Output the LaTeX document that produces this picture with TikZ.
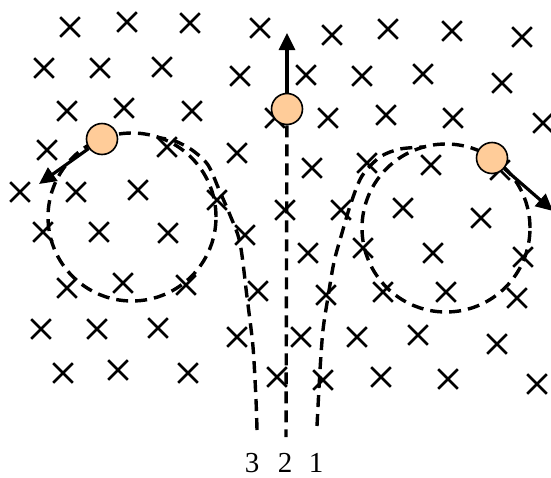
\documentclass[tikz,border=0pt]{standalone}
\usepackage{fontspec}
\setmainfont{Liberation Serif}
\usetikzlibrary{arrows.meta,shapes.misc}

\definecolor{peach}{RGB}{255,204,153}

\begin{document}
\begin{tikzpicture}[x=1pt, y=-1pt]
        \tikzstyle{cross}=[cross out,draw,line width=2.6pt,minimum size=17pt,inner sep=0pt]
        \tikzstyle{ball}=[circle,draw,fill=peach,line width=1.6pt,minimum size=31pt,inner sep=0pt]
        \tikzstyle{traj}=[line width=3.4pt,dash pattern=on 12pt off 7pt]
        \tikzstyle{vec}=[line width=3.2pt,-{Triangle[length=17pt,width=16pt]}]
        \tikzstyle{num}=[font=\fontsize{29}{30}\selectfont,inner sep=0pt]

        \useasboundingbox (0,0) rectangle (551,477);

        % field into the page
        \foreach \p in {(70,27),(127,22),(190,23),(260,28),(332,35),(388,29),(452,31),(522,37),
                        (44,68),(100,68),(162,67),(240,76),(306,75),(362,76),(423,74),(502,83),
                        (67,111),(124,108),(192,111),(275,118),(328,118),(386,115),(453,118),(543,123),
                        (47,150),(167,147),(237,153),(312,168),(367,163),(431,165),(500,170),
                        (20,192),(76,192),(138,190),(217,200),(285,210),(341,210),(403,208),(481,218),
                        (43,232),(99,232),(168,233),(245,235),(308,253),(363,248),(433,253),(523,257),
                        (67,288),(123,283),(186,285),(258,291),(326,295),(383,292),(446,292),(517,298),
                        (41,329),(97,329),(158,328),(237,337),(301,337),(357,337),(418,335),(497,344),
                        (63,373),(118,370),(188,373),(277,377),(323,380),(381,377),(448,379),(537,384)}
            \node[cross] at \p {};

        \coordinate (E_3) at (257,430);
        \coordinate (E_2) at (286,437);
        \coordinate (E_1) at (317,426);

        % trajectories
        \draw[traj] (132,217) circle[radius=84pt];
        \draw[traj] (446,228) circle[radius=84pt];
        \draw[traj] plot[smooth] coordinates {(257,430) (256,400) (253,347) (247,297) (240,243) (230,215) (220,192) (208,165) (192,150) (175,141) (160,138)};
        \draw[traj] plot[smooth] coordinates {(317,426) (320,370) (323,330) (328,297) (334,262) (342,233) (351,203) (362,176) (380,157) (400,149) (425,147)};

        \node[ball] (B_3) at (102,139) {};
        \node[ball] (B_2) at (287,109) {};
        \node[ball] (B_1) at (492,158) {};

        \draw[traj] (B_2) -- (E_2);

        \coordinate (V_3) at (39,184);
        \coordinate (V_2) at (287,33);
        \coordinate (V_1) at (553,211);
        \draw[vec] (B_3) -- (V_3);
        \draw[vec] (B_2) -- (V_2);
        \draw[vec] (B_1) -- (V_1);

        \node[num] (L_3) at (252,463) {3};
        \node[num] (L_2) at (285,463) {2};
        \node[num] (L_1) at (316,463) {1};
\end{tikzpicture}
\end{document}
